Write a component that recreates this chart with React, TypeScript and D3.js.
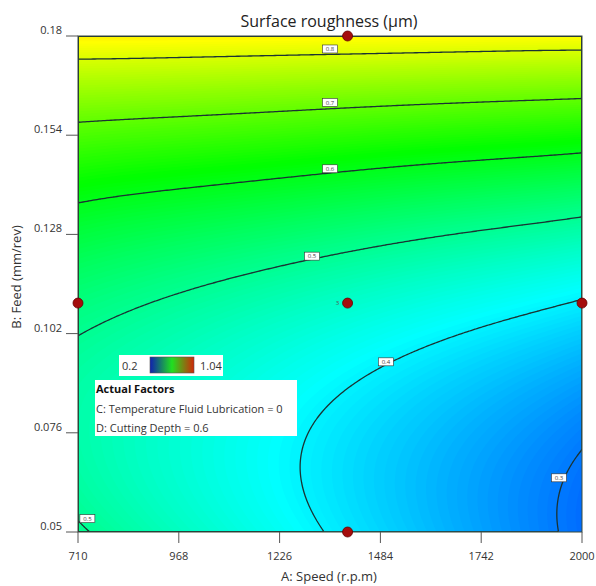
import React, { useMemo } from 'react';
import * as d3 from 'd3';

// ---- data ----
const speedTicks = [710, 968, 1226, 1484, 1742, 2000];
const feedTicks = [0.05, 0.076, 0.102, 0.128, 0.154, 0.18];
// Surface roughness (µm) at the tick grid: rows = feed (0.05 → 0.18), columns = speed (710 → 2000)
const roughness = [
  [0.505, 0.462, 0.419, 0.376, 0.333, 0.290],
  [0.480, 0.445, 0.410, 0.375, 0.341, 0.306],
  [0.501, 0.475, 0.448, 0.421, 0.395, 0.368],
  [0.569, 0.550, 0.532, 0.513, 0.495, 0.476],
  [0.682, 0.672, 0.662, 0.651, 0.641, 0.631],
  [0.842, 0.840, 0.838, 0.836, 0.833, 0.831],
];
const contourLevels = [0.3, 0.4, 0.5, 0.6, 0.7, 0.8];
const labelLevels = [0.8, 0.7, 0.6, 0.5, 0.4, 0.3, 0.5];
const labelSpeeds = [1355, 1355, 1355, 1309, 1498, 1941, 734];
const labelFeeds = [0.1766, 0.1626, 0.1452, 0.1223, 0.0946, 0.0642, 0.0535];
const designSpeeds = [1400, 710, 1400, 2000, 1400];
const designFeeds = [0.18, 0.11, 0.11, 0.11, 0.05];
const centerReplicates = '3';
const colorRange = [0.2, 1.04];
const title = 'Surface roughness (µm)';
const xTitle = 'A: Speed (r.p.m)';
const yTitle = 'B: Feed (mm/rev)';
const factorsTitle = 'Actual Factors';
const factorLines = ['C: Temperature Fluid Lubrication = 0', 'D: Cutting Depth = 0.6'];

const W = 596;
const H = 586;
const L = 78, R = 582, T = 36, B = 532;
const CELL = 2;
const FONT = '"Open Sans", "Noto Sans", sans-serif';

function lagrange(nodes: number[], vals: number[], t: number) {
  let s = 0;
  for (let i = 0; i < nodes.length; i++) {
    let w = 1;
    for (let j = 0; j < nodes.length; j++) {
      if (j !== i) w *= (t - nodes[j]) / (nodes[i] - nodes[j]);
    }
    s += w * vals[i];
  }
  return s;
}

export default function App() {
  const x = d3.scaleLinear().domain([710, 2000]).range([L, R]);
  const y = d3.scaleLinear().domain([0.05, 0.18]).range([B, T]);
  const [cmin, cmax] = colorRange;
  const step = (cmax - cmin) / 4;
  const color = d3
    .scaleLinear<string>()
    .domain([cmin, cmin + step, cmin + 2 * step, cmin + 3 * step, cmax])
    .range(['#0000ff', '#00ffff', '#00ff00', '#ffff00', '#ff0000'])
    .clamp(true);

  const { bands, lines, minV } = useMemo(() => {
    const nx = Math.round((R - L) / CELL);
    const ny = Math.round((B - T) / CELL);
    const values = new Float64Array(nx * ny);
    let minV = Infinity;
    for (let j = 0; j < ny; j++) {
      const f = y.invert(T + (j + 0.5) * CELL);
      for (let i = 0; i < nx; i++) {
        const s = x.invert(L + (i + 0.5) * CELL);
        const rows = roughness.map((row) => lagrange(speedTicks, row, s));
        const v = lagrange(feedTicks, rows, f);
        values[j * nx + i] = v;
        if (v < minV) minV = v;
      }
    }
    const path = d3.geoPath(d3.geoIdentity().scale(CELL).translate([L, T]) as any);
    const bandStep = 0.004;
    const ths = d3.range(cmin, cmax, bandStep);
    const cs = d3.contours().size([nx, ny]).thresholds(ths)(Array.from(values));
    const bands = cs
      .filter((c) => c.coordinates.length > 0)
      .map((c) => ({ d: path(c as any) as string, fill: color(c.value + bandStep / 2) }));
    const ls = d3.contours().size([nx, ny]).thresholds(contourLevels)(Array.from(values));
    const lines = ls.map((c) => ({ d: path(c as any) as string, v: c.value }));
    return { bands, lines, minV };
  }, []);

  const tickColor = '#555';
  const textColor = '#333';

  return (
    <svg
      width={W}
      height={H}
      style={{ position: 'absolute', left: 0, top: 0, background: '#fff' }}
      fontFamily={FONT}
    >
      <defs>
        <clipPath id="plot-clip">
          <rect x={L} y={T} width={R - L} height={B - T} />
        </clipPath>
        <linearGradient id="legend-grad" x1="0" x2="1" y1="0" y2="0">
          <stop offset="0%" stopColor="#1020b0" />
          <stop offset="50%" stopColor="#20e020" />
          <stop offset="100%" stopColor="#d02808" />
        </linearGradient>
      </defs>

      {/* title */}
      <text x={329} y={27} textAnchor="middle" fontSize={16} fill="#222">
        {title}
      </text>

      {/* filled field */}
      <g clipPath="url(#plot-clip)">
        <rect x={L} y={T} width={R - L} height={B - T} fill={color(minV)} />
        {bands.map((b, i) => (
          <path key={i} d={b.d} fill={b.fill} stroke="none" />
        ))}
        {lines.map((l, i) => (
          <path key={'l' + i} d={l.d} fill="none" stroke="#1a3333" strokeWidth={1.3} />
        ))}
      </g>

      {/* frame */}
      <rect x={L} y={T} width={R - L} height={B - T} fill="none" stroke="#3a4a3a" strokeWidth={1} />

      {/* contour labels */}
      {labelLevels.map((lv, i) => {
        const cx = x(labelSpeeds[i]);
        const cy = y(labelFeeds[i]);
        return (
          <g key={'cl' + i}>
            <rect x={cx - 7.5} y={cy - 4} width={15} height={8} fill="#fff" stroke="#333" strokeWidth={0.6} />
            <text x={cx} y={cy + 2.2} textAnchor="middle" fontSize={6} fill="#444">
              {String(lv)}
            </text>
          </g>
        );
      })}

      {/* x axis ticks */}
      {speedTicks.map((s) => (
        <g key={'x' + s}>
          <line x1={x(s)} x2={x(s)} y1={B} y2={B + 11} stroke={tickColor} strokeWidth={1} />
          <text x={x(s)} y={560} textAnchor="middle" fontSize={11} fill={textColor}>
            {s}
          </text>
        </g>
      ))}
      {/* y axis ticks */}
      {feedTicks.map((f) => (
        <g key={'y' + f}>
          <line x1={L - 12} x2={L} y1={y(f)} y2={y(f)} stroke={tickColor} strokeWidth={1} />
          <text x={62} y={y(f) - 2} textAnchor="end" fontSize={11} fill={textColor}>
            {f}
          </text>
        </g>
      ))}

      {/* axis titles */}
      <text x={329} y={581} textAnchor="middle" fontSize={13} fill={textColor}>
        {xTitle}
      </text>
      <text
        transform={`translate(21,277) rotate(-90)`}
        textAnchor="middle"
        fontSize={13}
        fill={textColor}
      >
        {yTitle}
      </text>

      {/* design points */}
      {designSpeeds.map((s, i) => (
        <circle key={'p' + i} cx={x(s)} cy={y(designFeeds[i])} r={5} fill="#a50d0d" stroke="#600" strokeWidth={0.8} />
      ))}
      <text x={x(1400) - 10} y={y(0.11) + 2} fontSize={6} fill="#555" textAnchor="middle">
        {centerReplicates}
      </text>

      {/* colour legend */}
      <rect x={119} y={355} width={104} height={21} fill="#fff" />
      <text x={122} y={370} fontSize={11} fill={textColor}>
        {colorRange[0]}
      </text>
      <rect x={150} y={357} width={44} height={16} fill="url(#legend-grad)" stroke="#555" strokeWidth={0.6} />
      <text x={200} y={370} fontSize={11} fill={textColor}>
        {colorRange[1]}
      </text>

      {/* actual factors box */}
      <rect x={95} y={380} width={202} height={56} fill="#fff" />
      <text x={96} y={393} fontSize={11} fontWeight="bold" fill="#111">
        {factorsTitle}
      </text>
      {factorLines.map((t, i) => (
        <text key={'f' + i} x={96} y={413 + i * 19} fontSize={11} fill={textColor}>
          {t}
        </text>
      ))}
    </svg>
  );
}
